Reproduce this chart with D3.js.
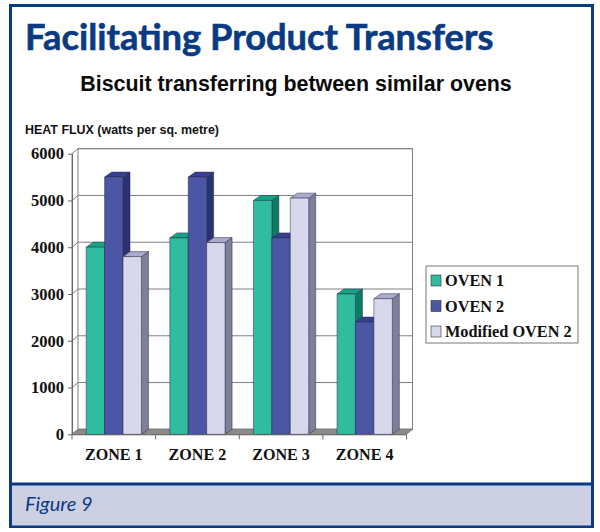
<!DOCTYPE html>
<html><head><meta charset="utf-8">
<script src="https://cdn.jsdelivr.net/npm/d3@7/dist/d3.min.js"></script>
<style>html,body{margin:0;padding:0;background:#fff}svg{display:block}</style>
</head><body><svg id="c" width="600" height="532"></svg>
<script>
const zones = ["ZONE 1","ZONE 2","ZONE 3","ZONE 4"];
const seriesNames = ["OVEN 1","OVEN 2","Modified OVEN 2"];
const oven1 = [4000,4200,5000,3000];
const oven2 = [5500,5500,4200,2400];
const modifiedOven2 = [3800,4100,5050,2900];
const yTicks = [0,1000,2000,3000,4000,5000,6000];
const frontColors = ["#2fbc9f","#4b57a5","#d8d8ec"];
const topColors = ["#12a586","#363f92","#a9abcf"];
const sideColors = ["#0d7c64","#2b3273","#7e7f9b"];

const svg = d3.select("#c");
const navy = "#0a3a82", grey = "#808080", serif = "'Liberation Serif',serif", sans = "'Liberation Sans',sans-serif";
const dx = 6, dy = 5, barDx = 7;
const x0 = d3.scaleBand().domain(zones).range([72,406.5]);
const x1 = d3.scaleBand().domain(seriesNames).range([0,x0.bandwidth()]).paddingInner(0).paddingOuter(0.77);
const y = d3.scaleLinear().domain([0,6000]).range([434.3,153.7]);
const values = [oven1,oven2,modifiedOven2];

// frame
svg.append("rect").attr("x",10.5).attr("y",5.5).attr("width",582).attr("height",521).attr("fill","#fff").attr("stroke",navy).attr("stroke-width",3);
svg.append("rect").attr("x",12).attr("y",484.5).attr("width",579).attr("height",41).attr("fill","#cdd0e3");
svg.append("line").attr("x1",12).attr("x2",591).attr("y1",484).attr("y2",484).attr("stroke",navy).attr("stroke-width",3);

// titles
svg.append("text").attr("x",25).attr("y",50).attr("font-family","Lato,sans-serif").attr("font-weight",700).attr("font-size",36.3).attr("fill",navy).attr("stroke",navy).attr("stroke-width",0.6).text("Facilitating Product Transfers");
svg.append("text").attr("x",296).attr("y",91).attr("text-anchor","middle").attr("font-family",sans).attr("font-weight",700).attr("font-size",21.4).attr("fill","#0a0a0a").text("Biscuit transferring between similar ovens");
svg.append("text").attr("x",25).attr("y",134).attr("font-family",sans).attr("font-weight",700).attr("font-size",12.45).attr("fill","#111").text("HEAT FLUX (watts per sq. metre)");
svg.append("text").attr("x",25).attr("y",511).attr("font-family","Lato,sans-serif").attr("font-style","italic").attr("font-weight",400).attr("font-size",20).attr("fill",navy).text("Figure 9");

// walls
const [yb,yt] = y.range();
const xl = x0.range()[0], xr = x0.range()[1];
svg.append("polygon").attr("points",[[xl,yb],[xl+dx,yb-dy],[xr+dx,yb-dy],[xr,yb]].join(" ")).attr("fill","#8a8a86").attr("stroke",grey);
svg.append("rect").attr("x",xl+dx).attr("y",yt-dy).attr("width",xr-xl).attr("height",yb-yt).attr("fill","none").attr("stroke",grey).attr("stroke-width",1);
svg.append("line").attr("x1",xl).attr("x2",xl).attr("y1",yb).attr("y2",yt).attr("stroke",grey);
const grid = svg.append("g");
yTicks.forEach(t=>{
  grid.append("line").attr("x1",xl).attr("y1",y(t)).attr("x2",xl+dx).attr("y2",y(t)-dy).attr("stroke",grey);
  grid.append("line").attr("x1",xl+dx).attr("y1",y(t)-dy).attr("x2",xr+dx).attr("y2",y(t)-dy).attr("stroke",grey).attr("stroke-width",1);
});

// bars
const bars = svg.append("g").attr("stroke","#2a2a40").attr("stroke-width",0.5).attr("stroke-linejoin","round");
zones.forEach((z,zi)=>{
  seriesNames.forEach((s,si)=>{
    const l = x0(z)+x1(s), w = x1.bandwidth(), t = y(values[si][zi]), b = y(0);
    bars.append("polygon").attr("points",[[l+w,t],[l+w+barDx,t-dy],[l+w+barDx,b-dy],[l+w,b]].join(" ")).attr("fill",sideColors[si]);
    bars.append("polygon").attr("points",[[l,t],[l+barDx,t-dy],[l+w+barDx,t-dy],[l+w,t]].join(" ")).attr("fill",topColors[si]);
    bars.append("rect").attr("x",l).attr("y",t).attr("width",w).attr("height",b-t).attr("fill",frontColors[si]);
  });
});

// axes
const yAxis = svg.append("g").attr("transform",`translate(${xl},0)`).call(d3.axisLeft(y).tickValues(yTicks).tickSize(4).tickSizeOuter(0).tickPadding(4).tickFormat(d3.format("d")));
yAxis.selectAll("text").attr("font-family",serif).attr("font-weight",700).attr("font-size",16.5).attr("fill","#111");
yAxis.selectAll("line,path").attr("stroke","#666");
const xAxis = svg.append("g").attr("transform",`translate(0,${yb})`).call(d3.axisBottom(x0).tickSize(0).tickPadding(14));
xAxis.selectAll("text").attr("font-family",serif).attr("font-weight",700).attr("font-size",16.1).attr("fill","#111");
xAxis.select("path").attr("stroke","#666");
const edges = [...zones.map(z=>x0(z)), xr];
svg.append("g").selectAll("line").data(edges).join("line").attr("x1",d=>d).attr("x2",d=>d).attr("y1",yb).attr("y2",yb+5).attr("stroke","#666");

// legend
svg.append("rect").attr("x",426).attr("y",266).attr("width",152).attr("height",77).attr("fill","#fff").attr("stroke","#777");
const rows = d3.scalePoint().domain(seriesNames).range([280.5,331.5]);
seriesNames.forEach((s,i)=>{
  svg.append("rect").attr("x",431).attr("y",rows(s)-5.5).attr("width",10).attr("height",11).attr("fill",frontColors[i]).attr("stroke","#333").attr("stroke-width",0.6);
  svg.append("text").attr("x",445).attr("y",rows(s)+5.5).attr("font-family",serif).attr("font-weight",700).attr("font-size",16.3).attr("fill","#111").text(s);
});
</script></body></html>
